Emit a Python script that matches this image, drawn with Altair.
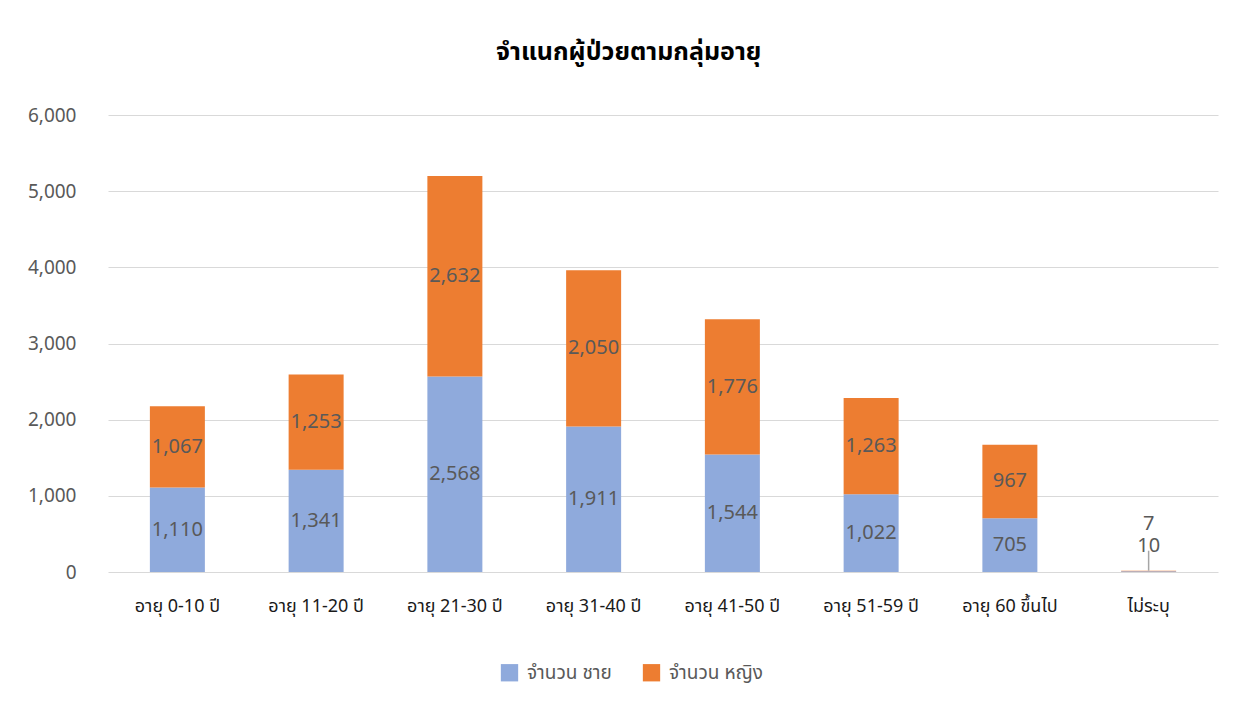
import altair as alt
import pandas as pd

categories = ["อายุ 0-10 ปี", "อายุ 11-20 ปี", "อายุ 21-30 ปี", "อายุ 31-40 ปี",
              "อายุ 41-50 ปี", "อายุ 51-59 ปี", "อายุ 60 ขึ้นไป", "ไม่ระบุ"]
male = [1110, 1341, 2568, 1911, 1544, 1022, 705, 10]
female = [1067, 1253, 2632, 2050, 1776, 1263, 967, 7]
series = ["จำนวน ชาย", "จำนวน หญิง"]
colors = ["#8FAADC", "#ED7D31"]
y_ticks = [0, 1000, 2000, 3000, 4000, 5000, 6000]

rows = []
for i, c in enumerate(categories):
    rows.append({"category": c, "series": series[0], "value": male[i], "order": 0})
    rows.append({"category": c, "series": series[1], "value": female[i], "order": 1})
df = pd.DataFrame(rows)

FONT = "'Noto Sans Thai', 'Noto Sans Thai UI', Tahoma, 'Noto Sans', 'DejaVu Sans', sans-serif"
LAST = categories[-1]

base = alt.Chart(df).transform_stack(
    stack="value", groupby=["category"], sort=[alt.SortField("order")], as_=["y0", "y1"]
).transform_calculate(mid="(datum.y0 + datum.y1) / 2")

x_enc = alt.X("category:N", sort=categories, title=None,
              scale=alt.Scale(paddingInner=0.6, paddingOuter=0.3),
              axis=alt.Axis(labelAngle=0, labelFontSize=18, labelColor="#1A1A1A",
                            labelPadding=25, ticks=False, domain=False, labelFont=FONT,
                            labelFontWeight="normal"))

y_axis = alt.Axis(values=y_ticks, format=",.0f", labelFontSize=19, labelColor="#595959",
                  labelPadding=32, ticks=False, domain=False, gridColor="#D9D9D9",
                  labelFont=FONT)
y_scale = alt.Scale(domain=[0, 6000])

bars = base.mark_bar(size=55).encode(
    x=x_enc,
    y=alt.Y("y0:Q", title=None, scale=y_scale, axis=y_axis),
    y2="y1:Q",
    color=alt.Color("series:N", sort=series,
                    scale=alt.Scale(domain=series, range=colors),
                    legend=alt.Legend(title=None, orient="none", direction="horizontal",
                                      legendX=392, legendY=548,
                                      symbolType="square",
                                      symbolSize=300, labelFontSize=19, labelColor="#595959",
                                      columnPadding=30, labelFont=FONT, labelOffset=8,
                                      symbolStrokeWidth=0)),
    order=alt.Order("order:Q"),
)

labels = base.transform_filter(alt.datum.category != LAST).mark_text(
    fontSize=20, color="#595959", font=FONT
).encode(
    x=alt.X("category:N", sort=categories),
    y=alt.Y("mid:Q", title=None, scale=y_scale, axis=y_axis),
    text=alt.Text("value:Q", format=","),
)

last_male = base.transform_filter(
    (alt.datum.category == LAST) & (alt.datum.order == 0)
).mark_text(fontSize=20, color="#595959", font=FONT, dy=-25).encode(
    x=alt.X("category:N", sort=categories),
    y=alt.Y("y1:Q", title=None, scale=y_scale, axis=y_axis),
    text=alt.Text("value:Q", format=","),
)

last_female = base.transform_filter(
    (alt.datum.category == LAST) & (alt.datum.order == 1)
).mark_text(fontSize=20, color="#595959", font=FONT, dy=-47).encode(
    x=alt.X("category:N", sort=categories),
    y=alt.Y("y1:Q", title=None, scale=y_scale, axis=y_axis),
    text=alt.Text("value:Q", format=","),
)

leader = base.transform_filter(
    (alt.datum.category == LAST) & (alt.datum.order == 1)
).mark_rule(color="#A6A6A6", strokeWidth=1.5, y2Offset=-20).encode(
    x=alt.X("category:N", sort=categories),
    y=alt.Y("y1:Q", title=None, scale=y_scale, axis=y_axis),
    y2="y1:Q",
)

chart = alt.layer(bars, labels, leader, last_male, last_female).properties(
    width=1110, height=457,
    title=alt.Title("จำแนกผู้ป่วยตามกลุ่มอายุ", fontSize=25, fontWeight="bold",
                    color="#000000", font=FONT, offset=41, frame="bounds",
                    anchor="middle", dx=6),
    padding={"left": 19, "top": 32, "right": 15, "bottom": 10},
).configure(background="#FFFFFF").configure_view(stroke=None)

chart.save("out.html", embed_options={"renderer": "svg", "actions": False})
